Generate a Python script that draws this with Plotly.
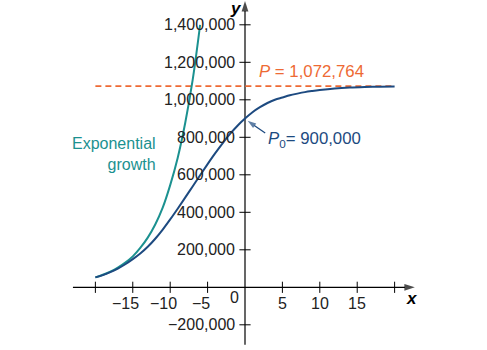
import plotly.graph_objects as go

# Logistic population model (years relative to now)
t_logistic = [-20, -19, -18, -17, -16, -15, -14, -13, -12, -11, -10, -9, -8, -7, -6,
              -5, -4, -3, -2, -1, 0, 1, 2, 3, 4, 5, 6, 7, 8, 9, 10, 12, 14, 16, 18, 20]
p_logistic = [53000, 65000, 81000, 100000, 123000, 150000, 180000, 216000, 259000,
              308000, 362000, 419000, 478000, 538000, 598000, 657000, 714000, 768000,
              818000, 862000, 900000, 934000, 961000, 983000, 1000000, 1012000, 1024000,
              1033000, 1041000, 1047000, 1052000, 1060000, 1065000, 1068000, 1070000,
              1071000]

# Unbounded exponential growth from the same starting population
t_exp = [-20, -19, -18, -17, -16, -15, -14, -13, -12, -11, -10, -9, -8, -7, -6]
p_exp = [53000, 67000, 84000, 105000, 132000, 165000, 210000, 265000, 335000, 425000,
         545000, 690000, 875000, 1105000, 1400000]

carrying_capacity = 1072764
p0 = 900000

x_ticks = [-20, -15, -10, -5, 5, 10, 15, 20]
x_tick_labels = ["", "\u221215", "\u221210", "\u22125", "5", "10", "15", ""]
y_ticks = [-200000, 200000, 400000, 600000, 800000, 1000000, 1200000, 1400000]
y_tick_labels = ["\u2212200,000", "200,000", "400,000", "600,000", "800,000",
                 "1,000,000", "1,200,000", "1,400,000"]

NAVY = "#1d4a80"
TEAL = "#1b9190"
ORANGE = "#ee6a34"
FONT = "Liberation Sans, Arial, sans-serif"

X_RANGE = [-32.75, 32.35]
Y_RANGE = [-334400, 1532300]

fig = go.Figure()


def arrow_trace(xs, ys, color, width, head):
    """Straight segment ending in an arrowhead oriented along the segment."""
    return go.Scatter(
        x=xs, y=ys, mode="lines+markers",
        line=dict(color=color, width=width),
        marker=dict(symbol="arrow", size=[0, head], angleref="previous",
                    color=color, line=dict(width=0)),
        hoverinfo="skip")


# coordinate axes
fig.add_trace(arrow_trace([-23, 22.7], [0, 0], "black", 1.2, 11))
fig.add_trace(arrow_trace([0, 0], [-307000, 1527000], "black", 1.2, 11))

# carrying capacity
fig.add_trace(go.Scatter(
    x=[-20, 20], y=[carrying_capacity, carrying_capacity], mode="lines",
    line=dict(color=ORANGE, width=1.8, dash="6px,4px"), hoverinfo="skip"))

# exponential growth curve
fig.add_trace(go.Scatter(
    x=t_exp, y=p_exp, mode="lines", line=dict(color=TEAL, width=2, shape="spline"),
    hoverinfo="skip"))

# logistic curve
fig.add_trace(go.Scatter(
    x=t_logistic, y=p_logistic, mode="lines",
    line=dict(color=NAVY, width=2, shape="spline"), hoverinfo="skip"))

# pointer to the initial population
fig.add_trace(arrow_trace([2.7, 0.35], [823000, p0 - 12000], NAVY, 1.3, 9))

# tick marks crossing the axes
fig.add_trace(go.Scatter(
    x=x_ticks, y=[0] * len(x_ticks), mode="markers",
    marker=dict(symbol="line-ns", size=8, line=dict(color="black", width=1)),
    hoverinfo="skip"))
fig.add_trace(go.Scatter(
    x=[0] * len(y_ticks), y=y_ticks, mode="markers",
    marker=dict(symbol="line-ew", size=8, line=dict(color="black", width=1)),
    hoverinfo="skip"))

annotations = []
tick_font = dict(family=FONT, size=16, color="#222222")

for xv, lab in zip(x_ticks, x_tick_labels):
    if not lab:
        continue
    annotations.append(dict(x=xv, y=0, xref="x", yref="y", text=lab,
                            showarrow=False, xanchor="center", yanchor="top",
                            xshift=-7 if xv < 0 else 0, yshift=-6,
                            font=tick_font))
annotations.append(dict(x=0, y=0, xref="x", yref="y", text="0", showarrow=False,
                        xanchor="right", yanchor="top", xshift=-4, yshift=0,
                        font=tick_font))

for yv, lab in zip(y_ticks, y_tick_labels):
    annotations.append(dict(x=0, y=yv, xref="x", yref="y", text=lab,
                            showarrow=False, xanchor="right", yanchor="middle",
                            xshift=-8, font=tick_font))

# axis titles
annotations.append(dict(x=0, y=1480000, xref="x", yref="y",
                        text="<b><i>y</i></b>", showarrow=False,
                        xanchor="right", yanchor="middle", xshift=-1, yshift=1,
                        font=dict(family=FONT, size=17, color="black")))
annotations.append(dict(x=22.3, y=0, xref="x", yref="y",
                        text="<b><i>x</i></b>", showarrow=False,
                        xanchor="center", yanchor="top", yshift=0,
                        font=dict(family=FONT, size=17, color="black")))

# curve labels
annotations.append(dict(x=-11.6, y=711000, xref="x", yref="y",
                        text="Exponential<br>growth", showarrow=False,
                        xanchor="right", yanchor="middle", align="right",
                        font=dict(family=FONT, size=16, color=TEAL)))
annotations.append(dict(x=1.64, y=1150000, xref="x", yref="y",
                        text="<i>P</i> = 1,072,764", showarrow=False,
                        xanchor="left", yanchor="middle",
                        font=dict(family=FONT, size=16.8, color=ORANGE)))
annotations.append(dict(x=2.8, y=790000, xref="x", yref="y",
                        text="<i>P</i><sub>0</sub>= 900,000", showarrow=False,
                        xanchor="left", yanchor="middle",
                        font=dict(family=FONT, size=16.8, color=NAVY)))

fig.update_layout(
    width=487, height=350, autosize=False,
    margin=dict(l=0, r=0, t=0, b=0),
    paper_bgcolor="white", plot_bgcolor="white",
    showlegend=False,
    xaxis=dict(range=X_RANGE, visible=False, fixedrange=True),
    yaxis=dict(range=Y_RANGE, visible=False, fixedrange=True),
    annotations=annotations,
)

fig.write_html("out.html", config={"displayModeBar": False})
